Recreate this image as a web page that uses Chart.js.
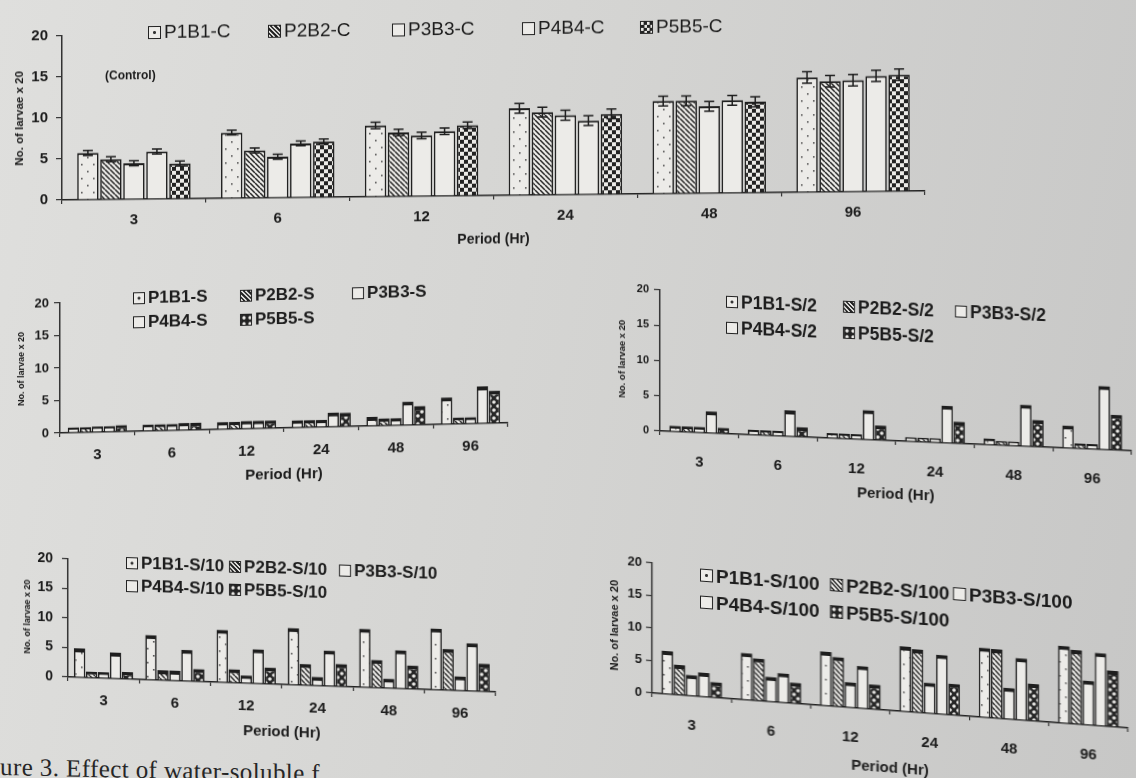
<!DOCTYPE html>
<html>
<head>
<meta charset="utf-8">
<script src="https://cdn.jsdelivr.net/npm/chart.js@4.4.1/dist/chart.umd.min.js"></script>
<style>
  html, body { margin: 0; padding: 0; }
  body {
    width: 1136px; height: 778px; overflow: hidden; position: relative;
    background: linear-gradient(100deg, #dfdfdd 0%, #d5d5d3 45%, #c7c7c6 100%);
    font-family: "Liberation Sans", Arial, sans-serif; color: #1c1c1c;
  }
  .panel { position: absolute; }
  .panel canvas { position: absolute; left: 0; top: 0; }
  .legend { position: absolute; display: grid; white-space: nowrap; }
  .item { display: flex; align-items: center; }
  .sw { display: inline-block; box-sizing: border-box; border: 1.5px solid #222; margin-right: 3px; background: #ecebe8; }
  .sw.dots { background: radial-gradient(circle at 50% 50%, #333 0 1.2px, #ecebe8 1.8px); }
  .sw.hatch { background: repeating-linear-gradient(45deg, #ecebe8 0 1.6px, #222 1.6px 3.2px); }
  .sw.checker { background: conic-gradient(#222 0 25%, #ecebe8 0 50%, #222 0 75%, #ecebe8 0) 0 0 / 6px 6px; }
  .sw.darkdots { background: radial-gradient(circle, #ecebe8 0 1.4px, #222 2px) 0 0 / 6px 6px; }
  .note { position: absolute; left: 105px; top: 69px; font: bold 12px "Liberation Sans", Arial, sans-serif; }
  .caption { position: absolute; left: 0; top: 753px; font: 25px "Liberation Serif", serif; color: #262626;
    letter-spacing: 0.4px; transform: skewY(1.2deg); transform-origin: 0 0; white-space: nowrap; }
</style>
</head>
<body>
<div class="caption">ure 3. Effect of water-soluble f</div>
<script>
const periods = ['3', '6', '12', '24', '48', '96'];
const groups = ['P1B1', 'P2B2', 'P3B3', 'P4B4', 'P5B5'];

// control
const ctrlP1 = [5.7, 8.0, 8.7, 10.6, 11.3, 14.0];
const ctrlP2 = [4.9, 5.8, 7.8, 10.1, 11.3, 13.5];
const ctrlP3 = [4.4, 5.0, 7.4, 9.7, 10.6, 13.6];
const ctrlP4 = [5.8, 6.6, 7.9, 9.0, 11.3, 14.1];
const ctrlP5 = [4.3, 6.8, 8.6, 9.8, 11.1, 14.2];
const ctrlErr = [0.3, 0.3, 0.4, 0.6, 0.6, 0.7];

// S
const sP1 = [0.8, 1.0, 1.1, 1.1, 1.4, 4.1];
const sP2 = [0.8, 1.0, 1.1, 1.1, 1.1, 1.0];
const sP3 = [0.9, 1.0, 1.2, 1.1, 1.1, 1.0];
const sP4 = [0.9, 1.1, 1.2, 2.2, 3.6, 5.7];
const sP5 = [1.0, 1.1, 1.2, 2.1, 2.9, 5.0];

// S/2
const s2P1 = [0.8, 0.7, 0.7, 0.6, 0.9, 3.2];
const s2P2 = [0.8, 0.7, 0.7, 0.6, 0.6, 0.7];
const s2P3 = [0.8, 0.7, 0.7, 0.6, 0.6, 0.7];
const s2P4 = [3.1, 3.7, 4.2, 5.3, 5.9, 9.0];
const s2P5 = [0.8, 1.4, 2.1, 3.1, 3.8, 5.0];

// S/10
const s10P1 = [4.9, 7.6, 8.9, 9.6, 9.9, 10.4];
const s10P2 = [1.0, 1.7, 2.3, 3.6, 4.7, 7.0];
const s10P3 = [1.0, 1.7, 1.3, 1.5, 1.6, 2.4];
const s10P4 = [4.4, 5.3, 5.8, 6.0, 6.5, 8.1];
const s10P5 = [1.2, 2.1, 2.8, 3.8, 4.0, 4.7];

// S/100
const s100P1 = [6.6, 7.2, 8.3, 10.0, 10.7, 11.9];
const s100P2 = [4.6, 6.5, 7.6, 9.7, 10.6, 11.4];
const s100P3 = [3.2, 3.8, 3.9, 4.7, 4.8, 6.8];
const s100P4 = [3.7, 4.5, 6.5, 9.1, 9.5, 11.2];
const s100P5 = [2.4, 3.2, 3.8, 4.8, 5.7, 8.6];

const WHITE = '#ecebe8';
const INK = '#1e1e1e';

function pattern(kind) {
  const c = document.createElement('canvas');
  const g = c.getContext('2d');
  if (kind === 'dots') {
    c.width = 12; c.height = 14;
    g.fillStyle = WHITE; g.fillRect(0, 0, 12, 14);
    g.fillStyle = '#555';
    g.fillRect(3, 3, 1.6, 1.6); g.fillRect(9, 10, 1.6, 1.6);
  } else if (kind === 'hatch') {
    c.width = 5; c.height = 5;
    g.fillStyle = WHITE; g.fillRect(0, 0, 5, 5);
    g.strokeStyle = '#2a2a2a'; g.lineWidth = 1.5;
    g.beginPath();
    for (let x = -5; x <= 5; x += 5) { g.moveTo(x, 0); g.lineTo(x + 5, 5); }
    g.stroke();
  } else if (kind === 'checker') {
    c.width = 8; c.height = 8;
    g.fillStyle = '#222'; g.fillRect(0, 0, 8, 8);
    g.fillStyle = WHITE; g.fillRect(0, 0, 4, 4); g.fillRect(4, 4, 4, 4);
  } else if (kind === 'darkdots') {
    c.width = 8; c.height = 8;
    g.fillStyle = '#262626'; g.fillRect(0, 0, 8, 8);
    g.fillStyle = WHITE;
    g.beginPath(); g.arc(2, 2, 1.8, 0, Math.PI * 2); g.arc(6, 6, 1.8, 0, Math.PI * 2); g.fill();
  } else {
    c.width = 2; c.height = 2;
    g.fillStyle = WHITE; g.fillRect(0, 0, 2, 2);
  }
  return g.createPattern(c, 'repeat');
}

const errorBars = {
  id: 'errorBars',
  afterDatasetsDraw(chart, args, opts) {
    if (!opts.err) return;
    const ctx = chart.ctx, y = chart.scales.y;
    chart.data.datasets.forEach((ds, i) => {
      chart.getDatasetMeta(i).data.forEach((bar, j) => {
        const t = y.getPixelForValue(ds.data[j] + opts.err[j]);
        const b = y.getPixelForValue(ds.data[j] - opts.err[j]);
        ctx.save();
        ctx.strokeStyle = INK; ctx.lineWidth = 1.5;
        ctx.beginPath();
        ctx.moveTo(bar.x, t); ctx.lineTo(bar.x, b);
        ctx.moveTo(bar.x - 5, t); ctx.lineTo(bar.x + 5, t);
        ctx.moveTo(bar.x - 5, b); ctx.lineTo(bar.x + 5, b);
        ctx.stroke();
        ctx.restore();
      });
    });
  }
};

function makePanel(p, series, kinds, suffix, err) {
  const wrap = document.createElement('div');
  wrap.className = 'panel';
  Object.assign(wrap.style, {
    left: p.left + 'px', top: p.top + 'px', width: p.w + 'px', height: p.h + 'px',
    transform: `skewY(${p.skew}deg)`, transformOrigin: `${p.axisX}px 0`
  });
  const cv = document.createElement('canvas');
  cv.width = p.w; cv.height = p.h;
  wrap.appendChild(cv);

  const lg = document.createElement('div');
  lg.className = 'legend';
  lg.style.cssText = `left:${p.lg.left}px;top:${p.lg.top}px;font:${p.lg.font};line-height:${p.lg.line}px;grid-template-columns:${p.lg.cols};`;
  groups.forEach((gname, i) => {
    const it = document.createElement('div');
    it.className = 'item';
    const sw = document.createElement('span');
    sw.className = 'sw ' + kinds[i];
    sw.style.width = sw.style.height = p.lg.sw + 'px';
    it.appendChild(sw);
    it.appendChild(document.createTextNode(gname + suffix));
    lg.appendChild(it);
  });
  wrap.appendChild(lg);
  document.body.appendChild(wrap);

  new Chart(cv, {
    type: 'bar',
    data: {
      labels: periods,
      datasets: series.map((vals, i) => ({
        label: groups[i] + suffix,
        data: vals,
        backgroundColor: pattern(kinds[i]),
        borderColor: INK,
        borderWidth: { top: p.cap, left: 1.6, right: 1.6, bottom: 0 },
        borderSkipped: 'start',
        categoryPercentage: p.cat,
        barPercentage: p.bar
      }))
    },
    options: {
      responsive: false,
      animation: false,
      layout: { padding: { top: p.padTop, right: p.padRight, left: 0, bottom: 0 } },
      plugins: {
        legend: { display: false },
        tooltip: { enabled: false },
        errorBars: { err: err }
      },
      scales: {
        x: {
          grid: { offset: true, drawOnChartArea: false, tickLength: 4, color: '#333', lineWidth: 1.2 },
          border: { color: '#222', width: 1.6 },
          ticks: { font: { family: 'Liberation Sans', size: 15, weight: 'bold' }, color: '#1c1c1c', padding: p.tickPad, maxRotation: 0, autoSkip: false },
          title: { display: true, text: 'Period (Hr)', color: '#1c1c1c',
            font: { family: 'Liberation Sans', size: p.xTitleSize, weight: 'bold' }, padding: { top: 0, bottom: p.xTitlePad } },
          afterFit: s => { s.height = p.xH; }
        },
        y: {
          min: 0, max: 20,
          ticks: { stepSize: 5, font: { family: 'Liberation Sans', size: p.yTick, weight: 'bold' }, color: '#1c1c1c', padding: p.yTickPad },
          grid: { drawOnChartArea: false, tickLength: 6, color: '#333', lineWidth: 1.2 },
          border: { color: '#333', width: 1.5, dash: [1.5, 3] },
          title: { display: true, text: 'No. of larvae x 20', color: '#1c1c1c',
            font: { family: 'Liberation Sans', size: p.yTitleSize, weight: 'bold' }, padding: { top: p.yTitlePad, bottom: 0 } },
          afterFit: s => { s.width = p.axisX; }
        }
      }
    },
    plugins: [errorBars]
  });
  return wrap;
}

const ctrlKinds = ['dots', 'hatch', 'plain', 'plain', 'checker'];
const treatKinds = ['dots', 'hatch', 'plain', 'plain', 'darkdots'];

const p1 = makePanel({
  left: 0, top: 0, w: 940, h: 262, axisX: 62, padTop: 36, padRight: 15, xH: 62, skew: -0.6,
  cap: 2, cat: 0.8, bar: 0.93, tickPad: 8, xTitleSize: 14, xTitlePad: 9, yTick: 15, yTickPad: 8,
  yTitleSize: 11.5, yTitlePad: 13,
  lg: { left: 148, top: 22, font: '19px "Liberation Sans", Arial, sans-serif', line: 22, cols: '120px 124px 130px 118px auto', sw: 13 }
}, [ctrlP1, ctrlP2, ctrlP3, ctrlP4, ctrlP5], ctrlKinds, '-C', ctrlErr);
const note = document.createElement('div');
note.className = 'note';
note.textContent = '(Control)';
p1.appendChild(note);

makePanel({
  left: 0, top: 270, w: 515, h: 230, axisX: 60, padTop: 33, padRight: 7, xH: 67, skew: -1.3,
  cap: 4, cat: 0.8, bar: 0.95, tickPad: 10, xTitleSize: 15, xTitlePad: 11, yTick: 13, yTickPad: 5,
  yTitleSize: 9, yTitlePad: 16,
  lg: { left: 133, top: 18, font: 'bold 17px "Liberation Sans", Arial, sans-serif', line: 24, cols: '107px 112px auto', sw: 12 }
}, [sP1, sP2, sP3, sP4, sP5], treatKinds, '-S');

makePanel({
  left: 600, top: 270, w: 536, h: 240, axisX: 60, padTop: 20, padRight: 4, xH: 79, skew: 2.4,
  cap: 4, cat: 0.77, bar: 0.95, tickPad: 17, xTitleSize: 15, xTitlePad: 16, yTick: 11, yTickPad: 5,
  yTitleSize: 9.5, yTitlePad: 17,
  lg: { left: 126, top: 16, font: 'bold 17.5px "Liberation Sans", Arial, sans-serif', line: 26, cols: '117px 112px auto', sw: 12 }
}, [s2P1, s2P2, s2P3, s2P4, s2P5], treatKinds, '-S/2');

makePanel({
  left: 0, top: 530, w: 500, h: 220, axisX: 68, padTop: 29, padRight: 4, xH: 73, skew: 2.0,
  cap: 4, cat: 0.84, bar: 0.95, tickPad: 10, xTitleSize: 15, xTitlePad: 16, yTick: 14, yTickPad: 9,
  yTitleSize: 9, yTitlePad: 22,
  lg: { left: 126, top: 19, font: 'bold 17px "Liberation Sans", Arial, sans-serif', line: 23, cols: '103px 110px auto', sw: 12 }
}, [s10P1, s10P2, s10P3, s10P4, s10P5], treatKinds, '-S/10');

makePanel({
  left: 600, top: 530, w: 536, h: 248, axisX: 52, padTop: 33, padRight: 8, xH: 85, skew: 4.2,
  cap: 4, cat: 0.77, bar: 0.95, tickPad: 17, xTitleSize: 15, xTitlePad: 18, yTick: 13, yTickPad: 4,
  yTitleSize: 11, yTitlePad: 8,
  lg: { left: 100, top: 28, font: 'bold 19px "Liberation Sans", Arial, sans-serif', line: 27, cols: '130px 123px auto', sw: 13 }
}, [s100P1, s100P2, s100P3, s100P4, s100P5], treatKinds, '-S/100');
</script>
</body>
</html>
